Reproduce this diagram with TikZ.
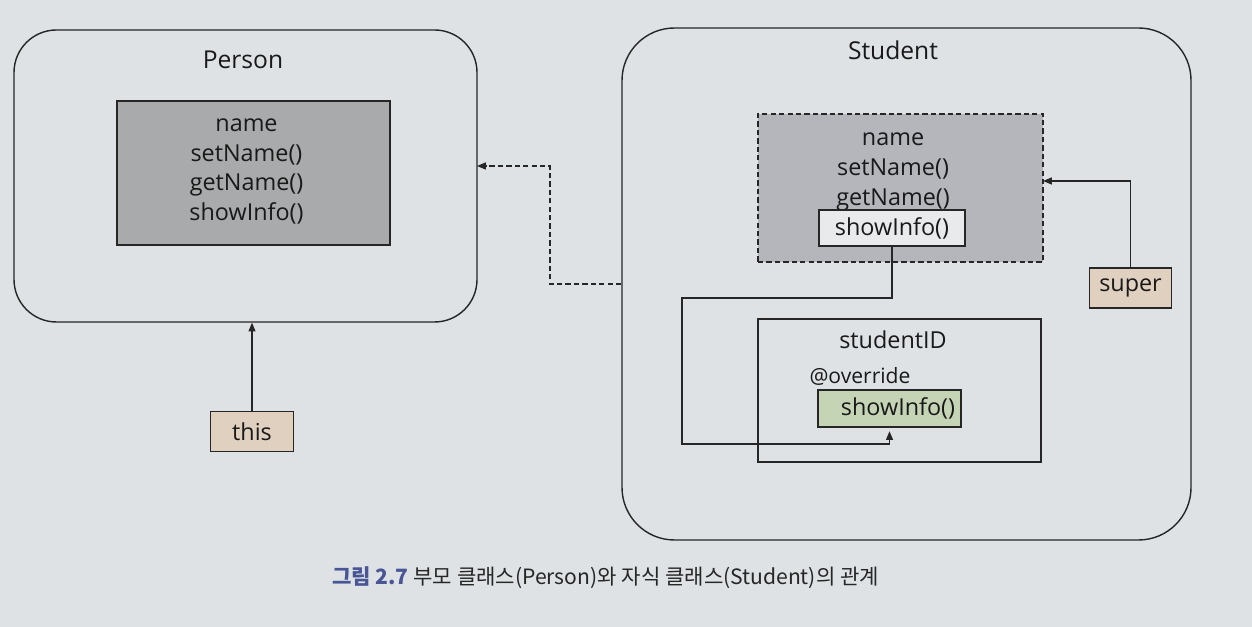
\documentclass[tikz,border=0pt]{standalone}
\usepackage{fontspec}
\setmainfont{Open Sans}
\newfontfamily\krfont{Noto Sans CJK KR}
\usetikzlibrary{arrows.meta,backgrounds,positioning}
\definecolor{pagebg}{RGB}{222,226,229}
\definecolor{inkline}{RGB}{38,38,38}
\definecolor{parentgray}{RGB}{168,170,171}
\definecolor{childgray}{RGB}{180,182,188}
\definecolor{paleinfo}{RGB}{232,234,236}
\definecolor{overgreen}{RGB}{198,212,182}
\definecolor{reftan}{RGB}{224,208,192}
\definecolor{capblue}{RGB}{72,86,150}
\tikzset{
    class diagram/.style = {>={Triangle[length=5pt, width=4pt]},
                            font=\fontsize{13.3}{15}\selectfont, text=black!90},
    line/.style          = {draw=inkline, line width=0.6pt},
    frame/.style         = {draw=inkline, line width=0.8pt, rounded corners=0.85cm},
    member/.style        = {draw=inkline, line width=0.8pt},
    memberlist/.style    = {align=center, inner sep=0pt},
    refbox/.style        = {member, fill=reftan, minimum width=1.65cm,
                            minimum height=0.8cm},
    heading/.style       = {font=\fontsize{14}{16}\selectfont},
    fine dash/.style     = {dash pattern=on 3pt off 1.8pt}
}
\begin{document}
\begin{tikzpicture}[class diagram]

% Page area (photo background)
\fill[pagebg] (0,0) rectangle (25.04,12.54);

% Parent class
\node[frame, minimum width=9.26cm, minimum height=5.84cm] (person) at (4.91,9.02) {};
\node[heading] (personTitle) at (4.86,11.34) {Person};
\node[member, fill=parentgray, minimum width=5.46cm, minimum height=2.88cm]
    (parentBody) at (5.07,9.08) {};
\node[memberlist] (parentList) at (4.93,9.11)
    {name\\[2pt]setName()\\[2pt]getName()\\[2pt]showInfo()};

% this reference
\node[refbox] (this) at (5.04,3.91) {this};
\draw[->, line] (this.north) -- (this.north |- person.south);

% Child class
\node[frame, rounded corners=1.05cm, minimum width=11.38cm, minimum height=10.24cm]
    (student) at (18.13,6.86) {};
\node[heading] (studentTitle) at (17.86,11.54) {Student};

% Inherited part
\node[member, fine dash, fill=childgray, minimum width=5.7cm, minimum height=2.96cm]
    (inherit) at (18.01,8.78) {};
\node[memberlist] (inheritList) at (17.86,9.1)
    {name\\[2pt]setName()\\[2pt]getName()};
\node[member, fill=paleinfo, minimum width=2.92cm, minimum height=0.72cm]
    (info) at (17.84,7.98) {showInfo()};

% Own part
\node[member, minimum width=5.66cm, minimum height=2.86cm] (own) at (17.99,4.73) {};
\node (studentId) at (17.86,5.74) {studentID};
\node[font=\fontsize{12}{14}\selectfont] (override) at (17.2,5.02) {@override};
\node[member, fill=overgreen, minimum height=0.74cm, text width=2.62cm, align=right]
    (over) at (17.79,4.37) {showInfo()};

% super reference
\node[refbox] (super) at (22.61,6.78) {super};
\coordinate (superIn) at (20.86,8.92);
\draw[->, line] (super.north) |- (superIn);

% Overriding path
\coordinate (bendA) at (13.64,6.58);
\coordinate (bendB) at (13.64,3.66);
\draw[->, line] (info.south) |- (bendA) -- (bendB) -| ([yshift=-2pt]over.south);

% Inheritance link
\coordinate (elbow) at (11.0,6.86);
\coordinate (personIn) at (9.54,9.22);
\draw[->, line, fine dash] (student.west) -- (elbow) |- (personIn);

% Caption
\node[font=\krfont\fontsize{12}{14}\selectfont, text=black!85] (caption) at (12.11,0.98)
    {{\color{capblue}\bfseries 그림 2.7} 부모 클래스(Person)와 자식 클래스(Student)의 관계};

\end{tikzpicture}
\end{document}
